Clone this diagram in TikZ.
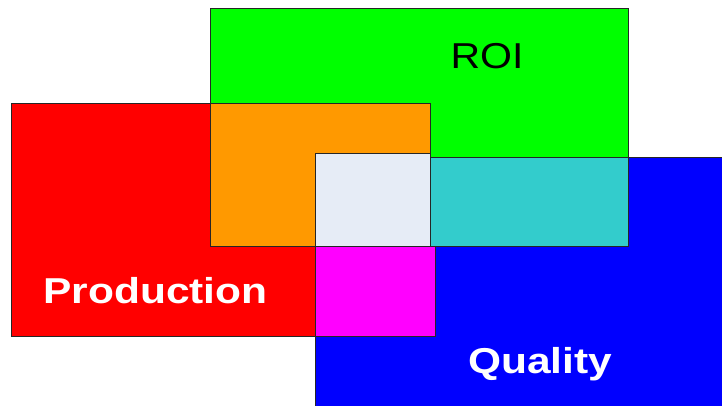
\documentclass[tikz,border=0pt]{standalone}
\usepackage{fontspec}
\setmainfont{Liberation Sans}
\definecolor{roigreen}{HTML}{00FF00}
\definecolor{prodred}{HTML}{FF0000}
\definecolor{qualblue}{HTML}{0000FF}
\definecolor{ovorange}{HTML}{FF9900}
\definecolor{ovcyan}{HTML}{33CCCC}
\definecolor{ovlight}{HTML}{E6ECF6}
\definecolor{ovmagenta}{HTML}{FF00FF}
\begin{document}
\begin{tikzpicture}[x=1pt,y=-1pt,
  region/.style={draw=black!85,line width=0.9pt},
  biglabel/.style={font=\fontsize{36}{40}\selectfont,inner sep=0pt,anchor=base}]
\useasboundingbox (0,0) rectangle (722,406);
\clip (0,0) rectangle (722,406);
\fill[white] (0,0) rectangle (722,406);
\draw[region,fill=roigreen] (210,8) rectangle (628,246);
\draw[region,fill=prodred] (11,103.5) rectangle (430,336.5);
\draw[region,fill=qualblue] (315,157.5) rectangle (730,414);
\draw[region,fill=ovorange] (210,103.5) rectangle (430,246.5);
\draw[region,fill=ovcyan] (430,157.5) rectangle (628,246.5);
\draw[region,fill=ovlight] (315,153.5) rectangle (430,246.5);
\draw[region,fill=ovmagenta] (315,246.5) rectangle (435,336.5);
\node[biglabel,text=black] (roi) at (487,69) {\scalebox{1.14}[1]{ROI}};
\node[biglabel,text=white] (prod) at (155.5,303) {\scalebox{1.18}[1]{\bfseries Production}};
\node[biglabel,text=white] (qual) at (540,373) {\scalebox{1.18}[1]{\bfseries Quality}};
\end{tikzpicture}
\end{document}
